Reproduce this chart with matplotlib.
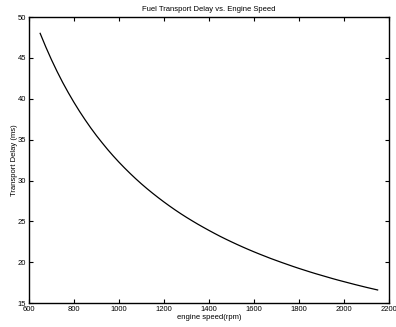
import matplotlib
matplotlib.use("Agg")
import matplotlib.pyplot as plt

# engine speed (rpm) and transport delay (ms)
rpm = [650, 675, 700, 725, 750, 775, 800, 825, 850, 875, 900, 925, 950, 975,
       1000, 1025, 1050, 1075, 1100, 1125, 1150, 1175, 1200, 1225, 1250,
       1275, 1300, 1325, 1350, 1375, 1400, 1425, 1450, 1475, 1500, 1525,
       1550, 1575, 1600, 1625, 1650, 1675, 1700, 1725, 1750, 1775, 1800,
       1825, 1850, 1875, 1900, 1925, 1950, 1975, 2000, 2025, 2050, 2075,
       2100, 2125, 2150]
delay = [48.00, 46.34, 44.79, 43.35, 42.00, 40.75, 39.57, 38.46, 37.42,
         36.43, 35.50, 34.63, 33.79, 33.00, 32.25, 31.54, 30.86, 30.21,
         29.59, 29.00, 28.44, 27.90, 27.38, 26.88, 26.40, 25.94, 25.50,
         25.08, 24.67, 24.28, 23.90, 23.53, 23.17, 22.83, 22.50, 22.18,
         21.87, 21.57, 21.28, 21.00, 20.73, 20.46, 20.21, 19.96, 19.72,
         19.48, 19.25, 19.03, 18.81, 18.60, 18.40, 18.20, 18.00, 17.81,
         17.63, 17.45, 17.27, 17.10, 16.93, 16.77, 16.61]

xticks = [600, 800, 1000, 1200, 1400, 1600, 1800, 2000, 2200]
yticks = [15, 20, 25, 30, 35, 40, 45, 50]

plt.rcParams['font.family'] = ['Liberation Sans', 'DejaVu Sans']
fs = 5.5

fig = plt.figure(figsize=(3.96, 3.27), dpi=100)
ax = fig.add_axes([0.073, 0.073, 0.909, 0.875])
ax.plot(rpm, delay, color='black', lw=0.9)

ax.set_xlim(600, 2200)
ax.set_ylim(15, 50)
ax.set_xticks(xticks)
ax.set_yticks(yticks)
ax.tick_params(direction='in', length=3, width=0.8, labelsize=fs, pad=2,
               top=True, right=True)
for s in ax.spines.values():
    s.set_linewidth(1.0)

ax.set_title('Fuel Transport Delay vs. Engine Speed', fontsize=fs, pad=4)
ax.set_xlabel('engine speed(rpm)', fontsize=fs, labelpad=1)
ax.set_ylabel('Transport Delay (ms)', fontsize=fs, labelpad=0)

fig.savefig('out.png', dpi=100)
